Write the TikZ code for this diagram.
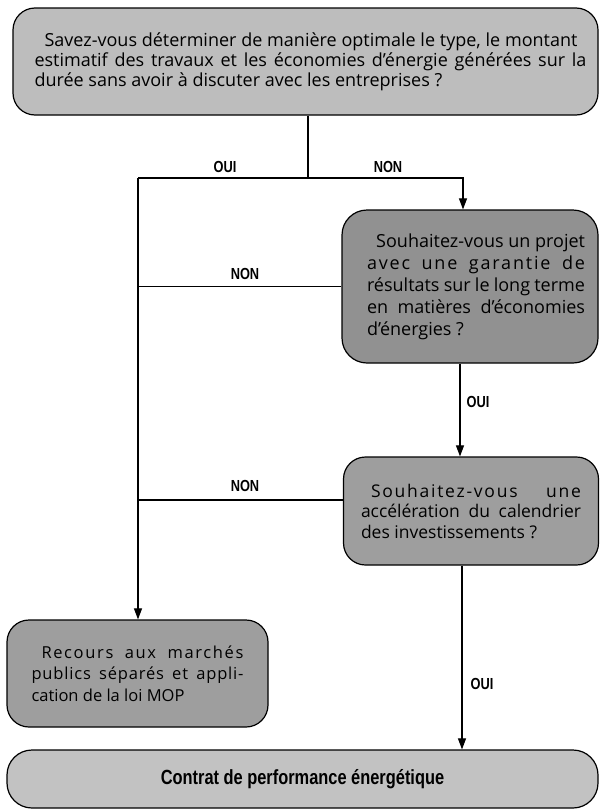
\documentclass[tikz,border=0pt]{standalone}
\usepackage{fontspec}
\setmainfont{Open Sans}
\newfontfamily\condb[FakeStretch=0.8]{Liberation Sans}
\newcommand{\spaced}[2]{{\addfontfeatures{LetterSpace=#1}#2}}
\newcommand{\shiftpar}[3]{\hspace*{#1}\begin{minipage}[c]{#2}#3\end{minipage}}
\usetikzlibrary{arrows.meta,calc}
\definecolor{fillA}{gray}{0.74}
\definecolor{fillB}{gray}{0.57}
\definecolor{fillC}{gray}{0.62}
\definecolor{fillD}{gray}{0.76}
\begin{document}
\begin{tikzpicture}[x=1pt,y=-1pt,
  box/.style={draw=black, line width=1.2pt, rounded corners=22pt, inner sep=0pt},
  lbl/.style={font=\condb\bfseries\fontsize{16}{16}\selectfont, inner sep=0pt},
  wire/.style={line width=1.1pt},
  arr/.style={wire, -{Triangle[length=11pt,width=8pt]}}]
\useasboundingbox (0,0) rectangle (601,809);
\fill[white] (0,0) rectangle (601,809);

\node[box, fill=fillA, minimum width=585pt, minimum height=107pt,
  font=\fontsize{18}{20}\selectfont] (b1) at (305.5,61.5)
  {\shiftpar{10pt}{552pt}{\hspace*{10pt}Savez-vous déterminer de manière optimale le type, le montant\hspace*{9pt}\linebreak
   estimatif des travaux et les économies d’énergie générées sur la\linebreak
   durée sans avoir à discuter avec les entreprises ?}};

\node[box, fill=fillB, rounded corners=25pt, minimum width=256pt, minimum height=153pt,
  font=\fontsize{18}{22}\selectfont] (b2) at (470,286.5)
  {\shiftpar{12pt}{218pt}{\hfill Souhaitez-vous un projet\hfill\linebreak
   \spaced{10}{avec une garantie de}\linebreak
   résultats sur le long terme\linebreak
   en matières d’économies\linebreak
   d’énergies ?}};

\node[box, fill=fillC, minimum width=255pt, minimum height=108pt,
  font=\fontsize{17.5}{20.5}\selectfont] (b5) at (471,511)
  {\shiftpar{0pt}{220pt}{\hspace*{10pt}\spaced{10}{Souhaitez-vous une}\linebreak
   accélération du calendrier\linebreak
   des investissements ?}};

\node[box, fill=fillC, minimum width=261pt, minimum height=107pt,
  font=\fontsize{16.5}{21.5}\selectfont] (b3) at (137.5,673.5)
  {\shiftpar{0pt}{212pt}{\hspace*{10pt}\spaced{10}{Recours aux marchés}\linebreak
   \spaced{5}{publics séparés et appli-}\linebreak
   cation de la loi MOP}};

\node[box, fill=fillD, rounded corners=25pt, minimum width=591pt, minimum height=58pt, align=center,
  font=\condb\bfseries\fontsize{20.5}{22}\selectfont] (b4) at (302.5,779)
  {Contrat de performance énergétique};

\coordinate (j) at (308,178);
\coordinate (jl) at (138,178);
\coordinate (jr) at (463,178);
\coordinate (c2) at (460,0);
\coordinate (c3) at (462,0);

\draw[wire] (b1.south -| j) -- (j);
\draw[arr] (jl) -- (jr) -- (b2.north -| jr);
\draw[arr] (jl) -- (b3.north -| jl);
\draw[wire] (b2.west) -- (b2.west -| jl);
\draw[arr] (b2.south -| c2) -- (b5.north -| c2);
\draw[wire] ([yshift=11pt]b5.west) -- ([yshift=11pt]b5.west -| jl);
\draw[arr] (b5.south -| c3) -- (b4.north -| c3);

\node[lbl] (oui1) at (225,167) {OUI};
\node[lbl] (non1) at (388,167) {NON};
\node[lbl] (non2) at (245,274) {NON};
\node[lbl] (oui2) at (478,402) {OUI};
\node[lbl] (non3) at (245,486) {NON};
\node[lbl] (oui3) at (482,684) {OUI};
\end{tikzpicture}
\end{document}
